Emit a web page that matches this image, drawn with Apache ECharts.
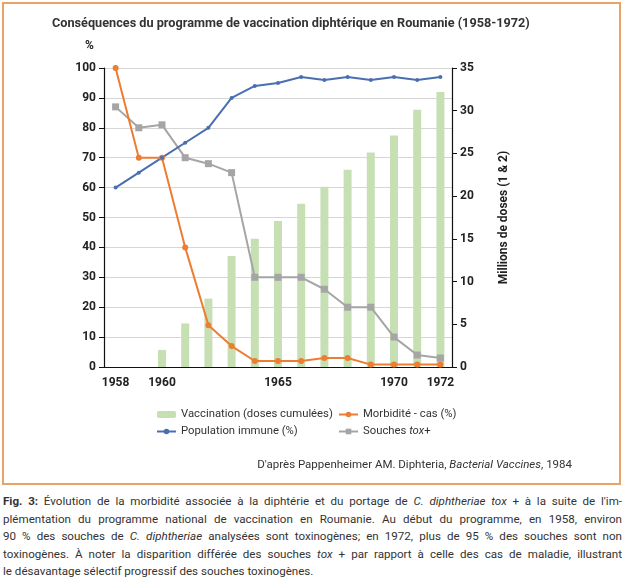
<!DOCTYPE html>
<html>
<head>
<meta charset="utf-8">
<script src="https://cdn.jsdelivr.net/npm/echarts@6/dist/echarts.min.js"></script>
<style>
  html, body { margin: 0; padding: 0; background: #fff; width: 625px; height: 581px; overflow: hidden; }
  #frame { position: absolute; left: 2px; top: 2px; width: 615px; height: 479px; border: 2px solid #e9a367; }
  #chart { position: absolute; left: 0; top: 0; width: 625px; height: 490px; }
  #caption { position: absolute; left: 3px; top: 493px; width: 619px; font-family: Roboto, sans-serif; font-size: 11.6px; line-height: 17.6px; color: #333; }
  #caption div { text-align: justify; text-align-last: justify; }
  #caption div.last { text-align-last: left; }
</style>
</head>
<body>
<div id="frame"></div>
<div id="chart"></div>
<div id="caption">
  <div><b>Fig. 3:</b> Évolution de la morbidité associée à la diphtérie et du portage de <i>C. diphtheriae tox</i> + à la suite de l'im-</div>
  <div>plémentation du programme national de vaccination en Roumanie. Au début du programme, en 1958, environ</div>
  <div>90 % des souches de <i>C. diphtheriae</i> analysées sont toxinogènes; en 1972, plus de 95 % des souches sont non</div>
  <div>toxinogènes. À noter la disparition différée des souches <i>tox</i> + par rapport à celle des cas de maladie, illustrant</div>
  <div class="last">le désavantage sélectif progressif des souches toxinogènes.</div>
</div>
<script>
const years = ['1958','1959','1960','1961','1962','1963','1964','1965','1966','1967','1968','1969','1970','1971','1972'];
const shownYearLabels = ['1958','1960','1965','1970','1972'];
const vaccinationDoses = [0, 0, 2, 5.1, 8, 13, 15, 17.1, 19.1, 21.1, 23.1, 25.1, 27.1, 30.1, 32.2];
const populationImmune = [60, 65, 70, 75, 80, 90, 94, 95, 97, 96, 97, 96, 97, 96, 97];
const morbidite = [100, 70, 70, 40, 14, 7, 2, 2, 2, 3, 3, 0.8, 0.8, 0.8, 0.8];
const souchesTox = [87, 80, 81, 70, 68, 65, 30, 30, 30, 26, 20, 20, 10, 4, 3];
const leftTicks = { min: 0, max: 100, interval: 10 };
const rightTicks = { min: 0, max: 35, interval: 5 };

const FONT = 'Roboto, sans-serif';
const LEG_SIZE = 11.3;

const chart = echarts.init(document.getElementById('chart'), null, { renderer: 'canvas' });
const N_VAC = 'Vaccination (doses cumulées)';
const N_POP = 'Population immune (%)';
const N_MOR = 'Morbidité - cas (%)';
const N_TOX = 'Souches tox+';
const legendText = { fontFamily: FONT, fontSize: LEG_SIZE, color: '#333', rich: { i: { fontFamily: FONT, fontSize: LEG_SIZE, fontStyle: 'italic', color: '#333' } } };
const legendFmt = n => n === N_TOX ? 'Souches {i|tox}+' : n;

chart.setOption({
  animation: false,
  textStyle: { fontFamily: FONT },
  title: {
    text: 'Conséquences du programme de vaccination diphtérique en Roumanie (1958-1972)',
    left: 47, top: 12,
    textStyle: { fontFamily: FONT, fontSize: 12.7, fontWeight: 'bold', color: '#333' }
  },
  grid: { left: 104, right: 173, top: 68, bottom: 123 },
  legend: [
    { data: [N_VAC, N_POP], orient: 'vertical', left: 151, top: 404, itemWidth: 19, itemHeight: 7, itemGap: 6, textStyle: legendText, formatter: legendFmt },
    { data: [N_MOR, N_TOX], orient: 'vertical', left: 333, top: 404, itemWidth: 19, itemHeight: 7, itemGap: 6, textStyle: legendText, formatter: legendFmt }
  ],
  xAxis: {
    type: 'category', data: years, boundaryGap: true,
    axisLine: { lineStyle: { color: '#111', width: 1.2 } },
    axisTick: { show: false },
    axisLabel: {
      interval: (i, v) => shownYearLabels.includes(v),
      fontFamily: FONT, fontSize: 12, fontWeight: 'bold', color: '#222', margin: 10
    }
  },
  yAxis: [
    {
      type: 'value', min: leftTicks.min, max: leftTicks.max, interval: leftTicks.interval,
      axisLine: { show: true, lineStyle: { color: '#111', width: 1.2 } },
      axisTick: { show: true, length: 5, lineStyle: { color: '#111' } },
      axisLabel: { fontFamily: FONT, fontSize: 12, fontWeight: 'bold', color: '#222', margin: 8 },
      splitLine: { lineStyle: { color: '#d6d6d6' } }
    },
    {
      type: 'value', min: rightTicks.min, max: rightTicks.max, interval: rightTicks.interval,
      name: 'Millions de doses (1 & 2)', nameLocation: 'middle', nameRotate: 90, nameGap: 46,
      nameTextStyle: { fontFamily: FONT, fontSize: 12, fontWeight: 'bold', color: '#222' },
      axisLine: { show: true, lineStyle: { color: '#111', width: 1.2 } },
      axisTick: { show: true, length: 5, lineStyle: { color: '#111' } },
      axisLabel: { fontFamily: FONT, fontSize: 12, fontWeight: 'bold', color: '#222', margin: 8 },
      splitLine: { show: false }
    }
  ],
  graphic: [
    { type: 'text', left: 85, top: 40, style: { text: '%', fontFamily: FONT, fontSize: 12, fontWeight: 'bold', fill: '#222' } },
    { type: 'text', right: 53, top: 459, style: {
        text: "D'après Pappenheimer AM. Diphteria, {i|Bacterial Vaccines}, 1984",
        fontFamily: FONT, fontSize: 11.5, fill: '#333',
        rich: { i: { fontFamily: FONT, fontSize: 11.5, fontStyle: 'italic', fill: '#333' } }
    } }
  ],
  series: [
    { name: N_VAC, type: 'bar', yAxisIndex: 1, data: vaccinationDoses, barWidth: 8, itemStyle: { color: '#c6e0b4' } },
    { name: N_TOX, type: 'line', data: souchesTox, symbol: 'rect', symbolSize: 7, lineStyle: { color: '#a5a5a5', width: 2 }, itemStyle: { color: '#a5a5a5' } },
    { name: N_MOR, type: 'line', data: morbidite, symbol: 'circle', symbolSize: 6, lineStyle: { color: '#ed7d31', width: 2 }, itemStyle: { color: '#ed7d31' } },
    { name: N_POP, type: 'line', data: populationImmune, symbol: 'circle', symbolSize: 4, lineStyle: { color: '#4a6fb0', width: 2 }, itemStyle: { color: '#4a6fb0' } }
  ]
});
</script>
</body>
</html>
